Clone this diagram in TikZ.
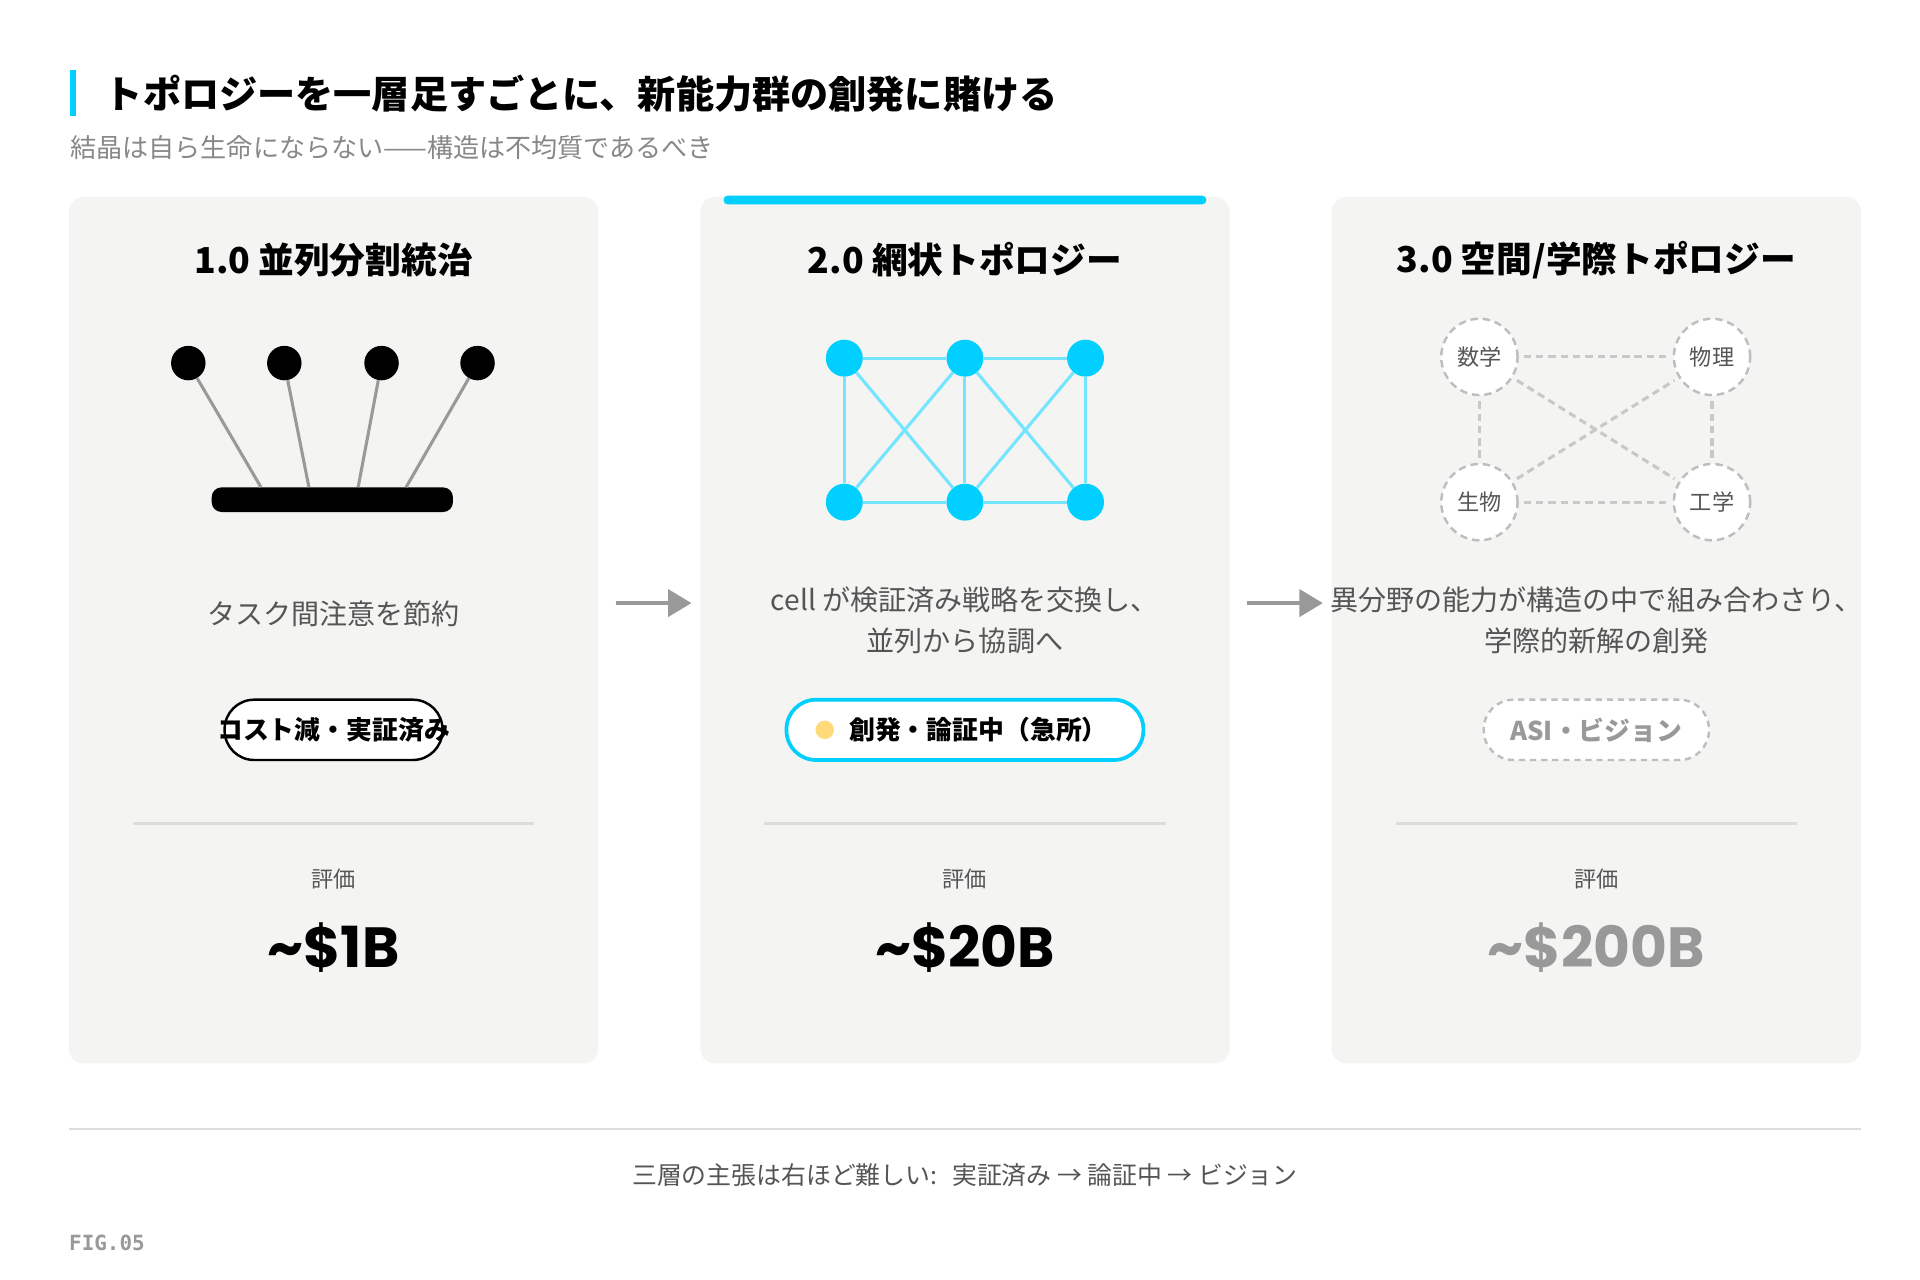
\documentclass[tikz,border=0pt]{standalone}
\usepackage{fontspec}
\setmainfont{Noto Sans CJK JP}
\newfontfamily\numfont{Poppins}
\newfontfamily\figfont{DejaVu Sans Mono}
\usetikzlibrary{positioning, calc, arrows.meta}

\definecolor{cyanacc}{RGB}{0,207,255}
\definecolor{cardbg}{RGB}{244,244,242}
\definecolor{textgray}{RGB}{85,85,85}
\definecolor{subgray}{RGB}{136,136,136}
\definecolor{linegray}{RGB}{153,153,153}
\definecolor{rulegray}{RGB}{221,221,219}
\definecolor{dashgray}{RGB}{190,190,190}
\definecolor{dotyellow}{RGB}{255,217,122}

\tikzset{
  card/.style={fill=cardbg, draw=none, rounded corners=12pt, minimum width=430pt, minimum height=704pt, inner sep=0pt},
  cardtitle/.style={font=\fontsize{29}{33}\selectfont\bfseries, inner sep=0pt},
  desc/.style={font=\fontsize{22.8}{34}\selectfont, text=textgray, align=center, inner sep=0pt},
  pill/.style={rounded corners=24pt, minimum height=49pt, fill=white, inner sep=0pt},
  badge/.style={font=\fontsize{21}{24}\selectfont\bfseries, inner sep=0pt},
  evallabel/.style={font=\fontsize{18}{22}\selectfont, text=textgray, inner sep=0pt},
  valuetext/.style={font=\numfont\fontsize{46}{50}\selectfont\bfseries, inner sep=0pt},
  blackdot/.style={circle, fill=black, minimum size=28pt, inner sep=0pt},
  spoke/.style={draw=linegray, line width=2.5pt},
  meshdot/.style={circle, fill=cyanacc, minimum size=30pt, inner sep=0pt},
  meshedge/.style={draw=cyanacc!55, line width=2.5pt},
  discnode/.style={circle, draw=dashgray, dash pattern=on 6pt off 4pt, line width=2pt, fill=white, minimum size=62pt, inner sep=0pt, font=\fontsize{18}{22}\selectfont, text=textgray},
  linkedge/.style={draw=dashgray!85, dash pattern=on 6pt off 4pt, line width=2.5pt, shorten <=4pt, shorten >=4pt},
  flow/.style={-{Triangle[length=19pt,width=22pt]}, draw=linegray, fill=linegray, line width=3pt},
  rule/.style={draw=rulegray, line width=2pt}
}

\begin{document}
\begin{tikzpicture}[x=1pt, y=-1pt]
  \useasboundingbox (0,0) rectangle (1560,1040);
  \fill[white] (0,0) rectangle (1560,1040);

  % header
  \fill[cyanacc] (57,57) rectangle (62,94);
  \node[anchor=west, inner sep=0pt, font=\fontsize{31}{34}\selectfont\bfseries] (head) at (85,76) {トポロジーを一層足すごとに、新能力群の創発に賭ける};
  \node[anchor=west, inner sep=0pt, font=\fontsize{21.2}{24}\selectfont, text=subgray] (subhead) at (57,120) {結晶は自ら生命にならない——構造は不均質であるべき};

  % cards
  \node[card] (c1) at (271,512) {};
  \node[card] (c2) at (784,512) {};
  \node[card] (c3) at (1297,512) {};
  \fill[cyanacc, rounded corners=3pt] (588,159) rectangle (980,166);

  \node[cardtitle] (t1) at (271,211) {1.0 並列分割統治};
  \node[cardtitle] (t2) at (784,211) {2.0 網状トポロジー};
  \node[cardtitle] (t3) at (1297,211) {3.0 空間/学際トポロジー};

  % 1.0 fan-in
  \node[blackdot] (a1) at (153,295) {};
  \node[blackdot] (a2) at (231,295) {};
  \node[blackdot] (a3) at (310,295) {};
  \node[blackdot] (a4) at (388,295) {};
  \node[fill=black, rounded corners=8pt, minimum width=196pt, minimum height=20pt, inner sep=0pt] (bar) at (270,406) {};
  \draw[spoke] (a1) -- ([xshift=-58pt]bar.north);
  \draw[spoke] (a2) -- ([xshift=-19pt]bar.north);
  \draw[spoke] (a3) -- ([xshift=21pt]bar.north);
  \draw[spoke] (a4) -- ([xshift=60pt]bar.north);

  % 2.0 mesh
  \node[meshdot] (m1) at (686,291) {};
  \node[meshdot] (m2) at (784,291) {};
  \node[meshdot] (m3) at (882,291) {};
  \node[meshdot] (m4) at (686,408) {};
  \node[meshdot] (m5) at (784,408) {};
  \node[meshdot] (m6) at (882,408) {};
  \draw[meshedge] (m1) -- (m2);
  \draw[meshedge] (m2) -- (m3);
  \draw[meshedge] (m4) -- (m5);
  \draw[meshedge] (m5) -- (m6);
  \draw[meshedge] (m1) -- (m4);
  \draw[meshedge] (m2) -- (m5);
  \draw[meshedge] (m3) -- (m6);
  \draw[meshedge] (m1) -- (m5);
  \draw[meshedge] (m4) -- (m2);
  \draw[meshedge] (m2) -- (m6);
  \draw[meshedge] (m5) -- (m3);

  % 3.0 disciplines
  \node[discnode] (p1) at (1202,290) {数学};
  \node[discnode] (p2) at (1391,290) {物理};
  \node[discnode] (p3) at (1202,408) {生物};
  \node[discnode] (p4) at (1391,408) {工学};
  \draw[linkedge] (p1) -- (p2);
  \draw[linkedge] (p3) -- (p4);
  \draw[linkedge] (p1) -- (p3);
  \draw[linkedge] (p2) -- (p4);
  \draw[linkedge] (p1) -- (p4);
  \draw[linkedge] (p3) -- (p2);

  % descriptions
  \node[desc] (d1) at (271,499) {タスク間注意を節約};
  \node[desc] (d2) at (784,504) {cell が検証済み戦略を交換し、\\並列から協調へ};
  \node[desc] (d3) at (1297,504) {異分野の能力が構造の中で組み合わさり、\\学際的新解の創発};

  \draw[flow] ([shift={(14,-22)}]c1.east) -- ([shift={(-7,-22)}]c2.west);
  \draw[flow] ([shift={(14,-22)}]c2.east) -- ([shift={(-7,-22)}]c3.west);

  % badges
  \node[pill, draw=black, line width=2pt, minimum width=177pt] (b1) at (271,593) {};
  \node[badge] (b1t) at (b1) {コスト減・実証済み};
  \node[pill, draw=cyanacc, line width=3pt, minimum width=290pt] (b2) at (784,593) {};
  \node[badge] (b2t) at (795,593) {創発・論証中（急所）};
  \node[circle, fill=dotyellow, minimum size=15pt, inner sep=0pt, left=12pt of b2t] (b2dot) {};
  \node[pill, draw=dashgray, dash pattern=on 5pt off 4pt, line width=2pt, minimum width=183pt] (b3) at (1297,593) {};
  \node[badge, text=linegray] (b3t) at (b3) {ASI・ビジョン};

  % valuation
  \draw[rule] (108,669) -- (434,669);
  \draw[rule] (621,669) -- (947,669);
  \draw[rule] (1134,669) -- (1460,669);
  \node[evallabel] (e1) at (271,714) {評価};
  \node[evallabel] (e2) at (784,714) {評価};
  \node[evallabel] (e3) at (1297,714) {評価};
  \node[valuetext] (v1) at (271,770) {\textasciitilde\$1B};
  \node[valuetext] (v2) at (784,770) {\textasciitilde\$20B};
  \node[valuetext, text=linegray] (v3) at (1297,770) {\textasciitilde\$200B};

  % footer
  \draw[rulegray, line width=1.5pt] (56,917) -- (1512,917);
  \node[desc, font=\fontsize{20.2}{24}\selectfont] (foot) at (784,955) {三層の主張は右ほど難しい:\hspace{12pt}実証済み → 論証中 → ビジョン};
  \node[anchor=west, inner sep=0pt, text=linegray, font=\figfont\bfseries\fontsize{17}{20}\selectfont] (fig) at (56,1010) {FIG.05};
\end{tikzpicture}
\end{document}
